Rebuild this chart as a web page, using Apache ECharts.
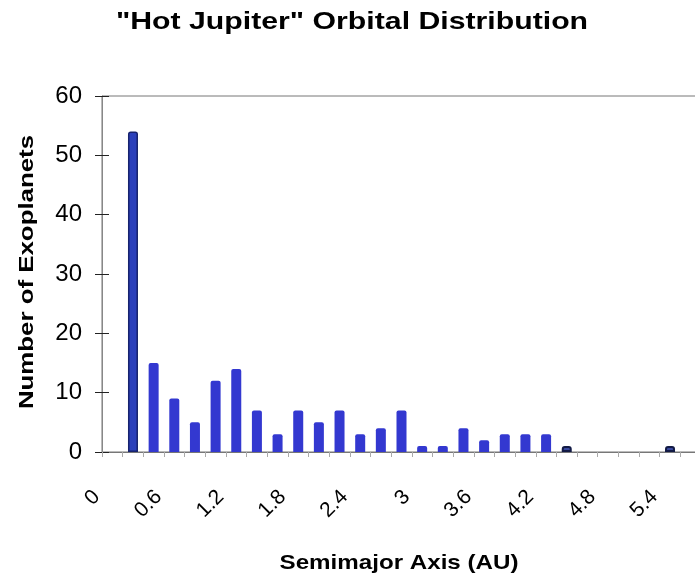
<!DOCTYPE html>
<html>
<head>
<meta charset="utf-8">
<script src="https://cdn.jsdelivr.net/npm/echarts@6/dist/echarts.min.js"></script>
<style>html,body{margin:0;padding:0;background:#fff;}#c{width:695px;height:578px;}</style>
</head>
<body>
<div id="c"></div>
<script>
const titleText = '"Hot Jupiter" Orbital Distribution';
const xAxisTitle = 'Semimajor Axis (AU)';
const yAxisTitle = 'Number of Exoplanets';
// bins of 0.2 AU
const categories = ['0','0.2','0.4','0.6','0.8','1','1.2','1.4','1.6','1.8','2','2.2','2.4','2.6','2.8','3','3.2','3.4','3.6','3.8','4','4.2','4.4','4.6','4.8','5','5.2','5.4','5.6'];
const counts = [0,54,15,9,5,12,14,7,3,7,5,7,3,4,7,1,1,4,2,3,3,3,1,0,0,0,0,1,0];
const darkBins = [1];
const outlinedBins = [22, 27];
const yMin = 0, yMax = 60, yStep = 10;

const FONT = '"Liberation Sans", Arial, sans-serif';

const barData = counts.map((v, i) => {
  if (darkBins.includes(i)) {
    return { value: v, itemStyle: { color: '#2b40bb', borderColor: '#17236e', borderWidth: 1.5 } };
  }
  if (outlinedBins.includes(i)) {
    return { value: v, itemStyle: { color: '#3a4aa0', borderColor: '#121a45', borderWidth: 2 } };
  }
  return v;
});

const chart = echarts.init(document.getElementById('c'), null, { renderer: 'canvas' });
chart.setOption({
  animation: false,
  backgroundColor: '#ffffff',
  graphic: [
    { type: 'text', x: 352, y: 22, scaleX: 1.26,
      style: { text: titleText, fontFamily: FONT, fontSize: 24, fontWeight: 'bold', fill: '#000', align: 'center', verticalAlign: 'middle' } },
    { type: 'text', x: 399, y: 563, scaleX: 1.15,
      style: { text: xAxisTitle, fontFamily: FONT, fontSize: 21, fontWeight: 'bold', fill: '#000', align: 'center', verticalAlign: 'middle' } },
    { type: 'text', x: 27, y: 272, rotation: Math.PI / 2, scaleX: 1.23,
      style: { text: yAxisTitle, fontFamily: FONT, fontSize: 21, fontWeight: 'bold', fill: '#000', align: 'center', verticalAlign: 'middle' } }
  ],
  grid: { left: 102, width: 599, top: 96, bottom: 126, outerBoundsMode: 'none', containLabel: false, show: true, borderColor: '#777', borderWidth: 1 },
  xAxis: {
    type: 'category',
    data: categories,
    boundaryGap: true,
    axisLine: { lineStyle: { color: '#777', width: 1 } },
    axisTick: { show: true, interval: 0, length: 5, lineStyle: { color: '#aaa' } },
    axisLabel: {
      interval: 2,
      rotate: 45,
      margin: 26,
      padding: [0, 22, 0, 0],
      fontFamily: FONT,
      fontSize: 21,
      color: '#000'
    },
    splitLine: { show: false }
  },
  yAxis: [{
    type: 'value',
    min: yMin, max: yMax, interval: yStep,
    axisLine: { show: true, lineStyle: { color: '#888', width: 1 } },
    axisTick: { show: true, inside: false, length: 7, lineStyle: { color: '#222' } },
    axisLabel: { margin: 20, fontFamily: FONT, fontSize: 24, color: '#000' },
    splitLine: { show: false }
  }, {
    type: 'value',
    position: 'left',
    min: yMin, max: yMax, interval: yStep,
    axisLine: { show: false },
    axisTick: { show: true, inside: true, length: 7, lineStyle: { color: '#222' } },
    axisLabel: { show: false },
    splitLine: { show: false }
  }],
  series: [{
    type: 'bar',
    data: barData,
    barWidth: 10,
    itemStyle: { color: '#3338d0', borderRadius: [2, 2, 0, 0] }
  }]
});
</script>
</body>
</html>
